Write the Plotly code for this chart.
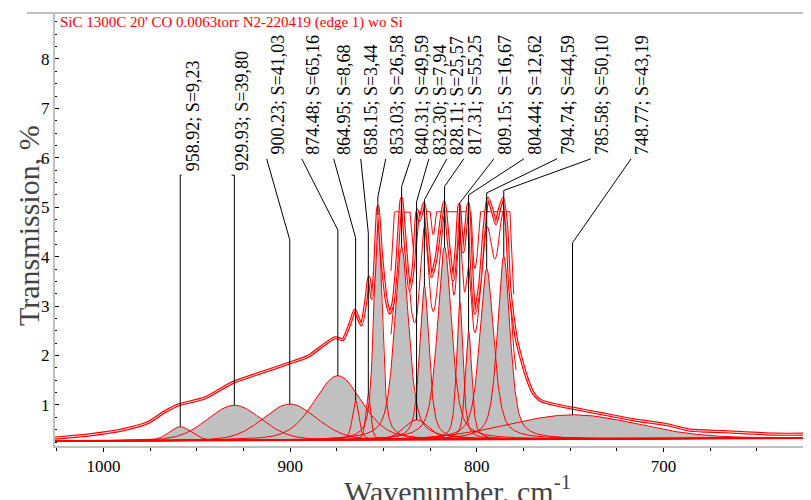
import numpy as np
import plotly.graph_objects as go

# ---------------- data ----------------
peak_centers = [958.92, 929.93, 900.23, 874.48, 864.95, 858.15, 853.03, 840.31,
                832.30, 828.11, 817.31, 809.15, 804.44, 794.74, 785.58, 748.77]
peak_areas = ["9,23", "39,80", "41,03", "65,16", "8,68", "3,44", "26,58", "49,59",
              "7,94", "25,57", "55,25", "16,67", "12,62", "44,59", "50,10", "43,19"]
# height above baseline, FWHM (cm-1), Lorentzian fraction
peak_heights = [0.28, 0.71, 0.73, 1.30, 0.80, 0.92, 4.55, 3.90,
                0.40, 3.10, 3.90, 2.80, 2.20, 3.45, 3.70, 0.49]
peak_fwhm = [14, 34, 34, 30, 4, 3, 5, 9, 16, 6, 9, 4, 4, 9, 8, 82]
peak_eta = [0.2, 0.15, 0.15, 0.3, 0.5, 0.5, 0.6, 0.6, 0.2, 0.6, 0.6, 0.6, 0.6, 0.6, 0.6, 0.1]

baseline_w = [1026.0, 621.0]
baseline_v = [0.27, 0.33]

spectrum_w = [1026, 1008.4, 990.5, 976.4, 967.3, 960, 945.8, 931.5, 919, 900.3, 890.6,
              876, 871.8, 870, 867.5, 865.4, 863.5, 861.8, 859.5, 857.8, 856.2, 855,
              853, 851, 848.5, 846.7, 844.9, 843, 840.4, 838, 836, 834, 832, 830.6,
              828.3, 826, 824.3, 821.7, 820, 817.5, 815, 812.7, 811, 809.5, 807.3,
              804.6, 803, 801, 798.4, 796, 794, 791.5, 789.8, 788, 785.9, 784, 782.3,
              778.7, 773.4, 769.8, 766.2, 761, 748, 734, 716, 698, 685.8, 668, 641, 621]
spectrum_v = [0.33, 0.39, 0.49, 0.64, 0.86, 1.0, 1.14, 1.44, 1.61, 1.85, 1.98,
              2.36, 2.32, 2.45, 2.7, 2.92, 2.75, 2.62, 3.1, 3.58, 3.16, 3.6,
              5.01, 4.0, 3.12, 2.86, 3.06, 3.8, 5.18, 4.1, 3.33, 3.8, 4.94, 4.74,
              5.08, 4.2, 3.6, 4.0, 4.5, 5.11, 4.2, 3.53, 4.2, 5.05, 4.1,
              5.08, 3.9, 2.86, 3.46, 4.6, 5.18, 4.9, 4.67, 4.95, 5.18, 4.6, 3.33,
              2.31, 1.57, 1.24, 1.1, 1.03, 0.93, 0.83, 0.70, 0.60, 0.49, 0.46, 0.41, 0.41]

clip_level = 4.91          # saturation level of the detector trace
saturation_gain = 1.6
saturation_floor = 3.2
fit_window = [846.0, 779.0]

title_text = "SiC 1300C 20' CO 0.0063torr N2-220419 (edge 1) wo Si"
x_ticks = [1000, 900, 800, 700]
y_ticks = [1, 2, 3, 4, 5, 6, 7, 8]

# label layout (data coordinates)
label_w = [952.3, 925.5, 906.7, 887.9, 870.8, 856.3, 842.9, 829.5,
           819.8, 810.2, 801.1, 785.0, 768.9, 751.2, 733.0, 711.5]
label_v = [5.69, 5.69] + [6.02] * 14
leader_start_v = [5.65, 5.65] + [5.98] * 14
leader_knee_v = [5.65, 5.65, 4.34, 4.54, 4.38, 4.48, 5.21, 5.42,
                 5.11, 5.15, 5.42, 5.09, 5.25, 5.29, 5.34, 4.28]

SERIF = "Liberation Serif, Times New Roman, serif"
RED = "#ff0000"
GRAY = "#c0c0c0"

# ---------------- model curves ----------------
grid = np.arange(621.0, 1026.01, 0.25)[::-1]
base = np.interp(grid, baseline_w[::-1], baseline_v[::-1])


def component(c, h, f, eta):
    d = (grid - c) / f
    return h * (eta / (1 + 4 * d * d) + (1 - eta) * np.exp(-4 * np.log(2) * d * d))


comps = [component(c, h, f, e) for c, h, f, e in
         zip(peak_centers, peak_heights, peak_fwhm, peak_eta)]

fig = go.Figure()

# gray fills
for comp in comps:
    fig.add_trace(go.Scatter(
        x=np.concatenate([grid, grid[::-1]]),
        y=np.concatenate([base + comp, base[::-1]]),
        fill="toself", fillcolor=GRAY, mode="none", hoverinfo="skip", showlegend=False))

# red component outlines
for comp in comps:
    fig.add_trace(go.Scatter(x=grid, y=base + comp, mode="lines",
                             line=dict(color=RED, width=1), hoverinfo="skip", showlegend=False))

# baseline
fig.add_trace(go.Scatter(x=grid, y=base, mode="lines", line=dict(color=RED, width=2),
                         hoverinfo="skip", showlegend=False))

# fitted sum in the dense region, drawn as a saturated (clipped) trace
fit_sum = base + np.sum(comps, axis=0)
mask = (grid <= fit_window[0]) & (grid >= fit_window[1])
sat = base + saturation_gain * (fit_sum - base)
sat_y = np.where(sat > saturation_floor, np.minimum(sat, clip_level), np.nan)
fig.add_trace(go.Scatter(x=grid[mask], y=sat_y[mask], mode="lines",
                         line=dict(color=RED, width=1), connectgaps=False,
                         hoverinfo="skip", showlegend=False))
fig.add_trace(go.Scatter(x=grid[mask], y=np.minimum(fit_sum[mask], clip_level), mode="lines",
                         line=dict(color=RED, width=1), hoverinfo="skip", showlegend=False))

# measured spectrum: hollow double line
fig.add_trace(go.Scatter(x=spectrum_w, y=spectrum_v, mode="lines",
                         line=dict(color=RED, width=3.2, shape="spline", smoothing=0.6),
                         hoverinfo="skip", showlegend=False))
fig.add_trace(go.Scatter(x=spectrum_w, y=spectrum_v, mode="lines",
                         line=dict(color="rgba(255,255,255,0.85)", width=1.0, shape="spline", smoothing=0.6),
                         hoverinfo="skip", showlegend=False))

# leader lines
lx, ly = [], []
for i, c in enumerate(peak_centers):
    top = float(np.interp(c, grid[::-1], (base + comps[i])[::-1]))
    lx += [label_w[i] + 5.9, c, c, None]
    ly += [leader_start_v[i], leader_knee_v[i], top, None]
fig.add_trace(go.Scatter(x=lx, y=ly, mode="lines", line=dict(color="black", width=1),
                         hoverinfo="skip", showlegend=False))

# labels
for i, c in enumerate(peak_centers):
    fig.add_annotation(x=label_w[i], y=label_v[i], xref="x", yref="y",
                       text=f"{c:.2f}; S={peak_areas[i]}", textangle=-90,
                       showarrow=False, xanchor="center", yanchor="bottom",
                       font=dict(family=SERIF, size=18, color="black"))

# title inside plot
fig.add_annotation(x=0.004, y=0.979, xref="paper", yref="paper", text=title_text,
                   showarrow=False, xanchor="left", yanchor="middle",
                   font=dict(family=SERIF, size=15, color=RED))

# axis titles
fig.add_annotation(x=-0.036, y=0.51, xref="paper", yref="paper", text="Transmission, %",
                   textangle=-90, showarrow=False, xanchor="center", yanchor="middle",
                   font=dict(family=SERIF, size=30, color="#444444"))
fig.add_annotation(x=0.533, y=-0.05, xref="paper", yref="paper",
                   text="Wavenumber, cm<sup>-1</sup>", showarrow=False,
                   xanchor="center", yanchor="top",
                   font=dict(family=SERIF, size=30, color="#444444"))

# top frame line
fig.add_shape(type="line", xref="paper", yref="paper", x0=-0.037, x1=1.0, y0=1.0, y1=1.0,
              line=dict(color=GRAY, width=2))

fig.update_xaxes(range=[1026, 621], tickvals=x_ticks, ticks="outside", ticklen=4,
                 tickcolor="black", showline=True, linecolor=GRAY, linewidth=2,
                 showgrid=False, zeroline=False,
                 minor=dict(dtick=25, ticks="outside", ticklen=3, tickcolor="black"),
                 tickfont=dict(family=SERIF, size=17, color="black"))
fig.update_yaxes(range=[0.17, 8.93], tickvals=y_ticks, ticks="inside", ticklen=4,
                 tickcolor="black", showline=True, linecolor=GRAY, linewidth=2,
                 showgrid=False, zeroline=False,
                 minor=dict(dtick=0.25, ticks="inside", ticklen=2, tickcolor="black"),
                 tickfont=dict(family=SERIF, size=17, color="black"))

# page body has an 8 px margin: figure is sized so the plot lands on the reference pixels
fig.update_layout(width=803, height=492, margin=dict(l=47, r=0, t=5, b=54),
                  paper_bgcolor="white", plot_bgcolor="white", showlegend=False)

fig.write_html("out.html")
